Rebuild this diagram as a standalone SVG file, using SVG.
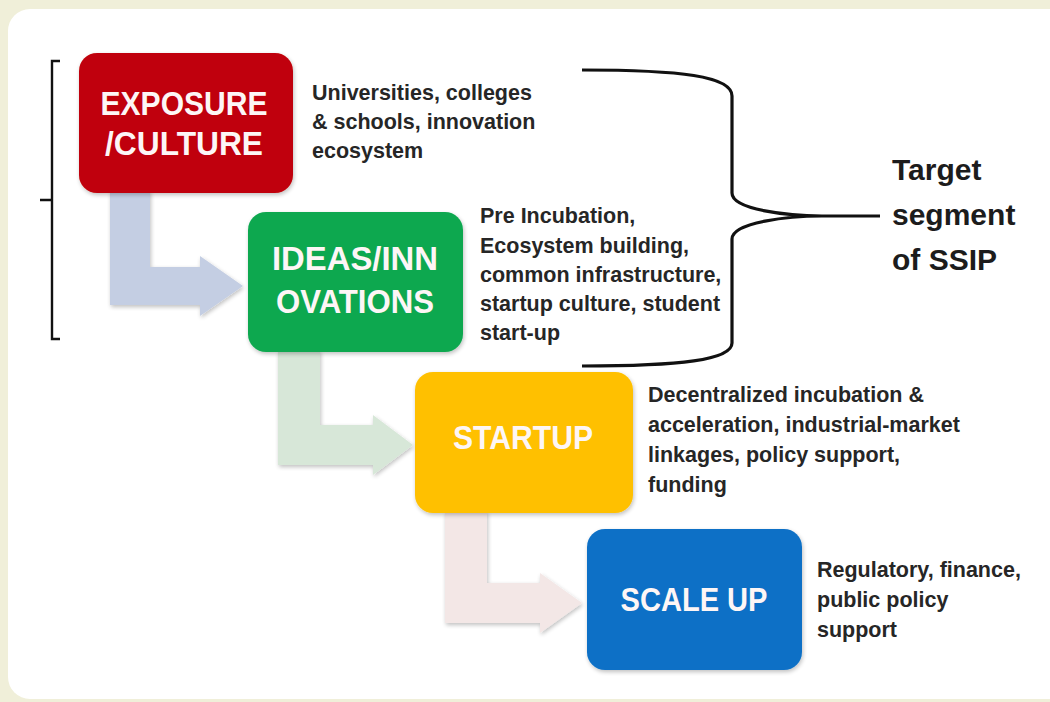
<svg xmlns="http://www.w3.org/2000/svg" width="1050" height="702" viewBox="0 0 1050 702">
<style>
.lbl{font-family:"Liberation Sans",Arial,sans-serif;font-weight:bold;font-size:34px;fill:#fdf6f6;text-anchor:middle}
.desc{font-family:"Liberation Sans",Arial,sans-serif;font-weight:bold;font-size:21.5px;fill:#262626}
.big{font-family:"Liberation Sans",Arial,sans-serif;font-weight:bold;font-size:30px;fill:#1c1c1c}
.brk{fill:none;stroke:#111;stroke-width:2.4}
.brace{fill:none;stroke:#111;stroke-width:3.2;stroke-linejoin:round}
</style>
<defs>
<filter id="sh" x="-10%" y="-10%" width="120%" height="125%">
<feGaussianBlur in="SourceAlpha" stdDeviation="2"/>
<feOffset dx="1" dy="2" result="o"/>
<feComponentTransfer><feFuncA type="linear" slope="0.25"/></feComponentTransfer>
<feMerge><feMergeNode/><feMergeNode in="SourceGraphic"/></feMerge>
</filter>
</defs>
<rect x="0" y="0" width="1050" height="702" fill="#f0efd9"/>
<rect x="8" y="9" width="1070" height="690" rx="22" fill="#ffffff"/>

<g id="connectors">
<path d="M110,190 L150,190 L150,267 L200,267 L200,256 L243,286 L200,316 L200,305 L110,305 Z" fill="#c4cee3" filter="url(#sh)"/>
<path d="M278,350 L320,350 L320,425 L373,425 L373,415 L413,445 L373,475 L373,465 L278,465 Z" fill="#d7e7d8" filter="url(#sh)"/>
<path d="M445,511 L487,511 L487,583 L540,583 L540,573 L582,603 L540,633 L540,623 L445,623 Z" fill="#f3e7e6" filter="url(#sh)"/>
</g>

<g id="left-bracket">
<path class="brk" d="M60,61 L52,61 L52,339 L60,339 M40,200 L52,200"/>
</g>

<g id="right-brace">
<path class="brace" d="M582,70 C680,70 732,76 732,96 L732,193 C732,210 790,216 822,216 L880,216 M822,216 C790,216 732,222 732,239 L732,343 C732,360 680,366 582,366"/>
</g>

<g id="exposure">
<rect x="79" y="53" width="214" height="140" rx="18" fill="#c00008" filter="url(#sh)"/>
<text class="lbl" x="184" y="115" textLength="167" lengthAdjust="spacingAndGlyphs">EXPOSURE</text>
<text class="lbl" x="184" y="155" textLength="158" lengthAdjust="spacingAndGlyphs">/CULTURE</text>
<text class="desc" x="312" y="100">Universities, colleges</text>
<text class="desc" x="312" y="129">&amp; schools, innovation</text>
<text class="desc" x="312" y="158">ecosystem</text>
</g>

<g id="ideas">
<rect x="248" y="212" width="215" height="140" rx="18" fill="#0aa84f" filter="url(#sh)"/>
<text class="lbl" x="355" y="270" textLength="166" lengthAdjust="spacingAndGlyphs">IDEAS/INN</text>
<text class="lbl" x="355" y="313" textLength="158" lengthAdjust="spacingAndGlyphs">OVATIONS</text>
<text class="desc" x="480" y="223">Pre Incubation,</text>
<text class="desc" x="480" y="252.5">Ecosystem building,</text>
<text class="desc" x="480" y="282">common infrastructure,</text>
<text class="desc" x="480" y="311">startup culture, student</text>
<text class="desc" x="480" y="340">start-up</text>
</g>

<g id="startup">
<rect x="415" y="372" width="218" height="141" rx="18" fill="#ffc000" filter="url(#sh)"/>
<text class="lbl" x="523" y="449" textLength="140" lengthAdjust="spacingAndGlyphs">STARTUP</text>
<text class="desc" x="648" y="402">Decentralized incubation &amp;</text>
<text class="desc" x="648" y="432">acceleration, industrial-market</text>
<text class="desc" x="648" y="462">linkages, policy support,</text>
<text class="desc" x="648" y="492">funding</text>
</g>

<g id="scaleup">
<rect x="587" y="529" width="215" height="141" rx="18" fill="#0a70c6" filter="url(#sh)"/>
<text class="lbl" x="694" y="611" textLength="147" lengthAdjust="spacingAndGlyphs">SCALE UP</text>
<text class="desc" x="817" y="577">Regulatory, finance,</text>
<text class="desc" x="817" y="607">public policy</text>
<text class="desc" x="817" y="637">support</text>
</g>

<g id="target">
<text class="big" x="892" y="180">Target</text>
<text class="big" x="892" y="225">segment</text>
<text class="big" x="892" y="270">of SSIP</text>
</g>
</svg>
